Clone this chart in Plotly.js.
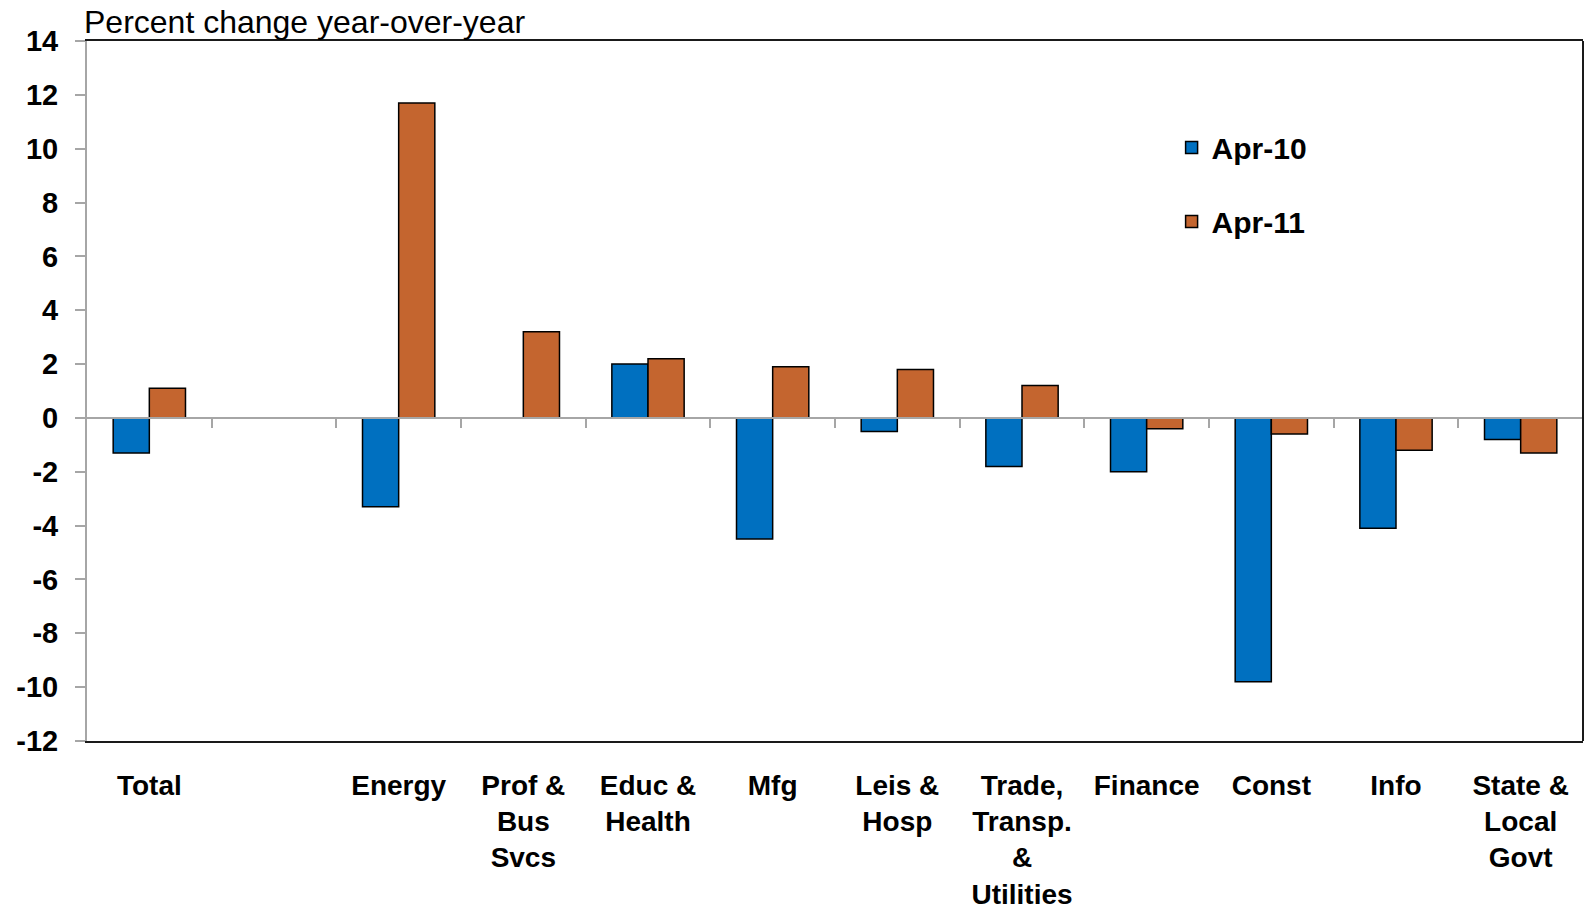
<!DOCTYPE html>
<html>
<head>
<meta charset="utf-8">
<script src="https://cdn.plot.ly/plotly-3.0.1.min.js"></script>
<style>html,body{margin:0;padding:0;background:#fff;}#chart{width:1585px;height:904px;}</style>
</head>
<body>
<div id="chart"></div>
<script>
const categories = ['Total', ' ', 'Energy', 'Prof & Bus Svcs', 'Educ & Health', 'Mfg', 'Leis & Hosp',
  'Trade, Transp. & Utilities', 'Finance', 'Const', 'Info', 'State & Local Govt'];
const tickLabels = ['Total', ' ', 'Energy', 'Prof &<br>Bus<br>Svcs', 'Educ &<br>Health', 'Mfg', 'Leis &<br>Hosp',
  'Trade,<br>Transp.<br>&<br>Utilities', 'Finance', 'Const', 'Info', 'State &<br>Local<br>Govt'];
const apr10 = [-1.3, null, -3.3, null, 2.0, -4.5, -0.5, -1.8, -2.0, -9.8, -4.1, -0.8];
const apr11 = [1.1, null, 11.7, 3.2, 2.2, 1.9, 1.8, 1.2, -0.4, -0.6, -1.2, -1.3];
const seriesNames = ['Apr-10', 'Apr-11'];
const yTitle = 'Percent change year-over-year';
const yTickVals = [14, 12, 10, 8, 6, 4, 2, 0, -2, -4, -6, -8, -10, -12];
const yTickText = yTickVals.map(v => String(v));

const FONT = '"Liberation Sans", Arial, sans-serif';
const yMin = -12, yMax = 14;
const boundaryTicks = categories.slice(1).map((_, i) => i + 0.5);

const traces = [
  {type: 'bar', name: seriesNames[0], x: categories, y: apr10, legendgroup: 'a',
   marker: {color: '#0070C0', line: {color: '#000', width: 1.5}}},
  {type: 'bar', name: seriesNames[1], x: categories, y: apr11, legendgroup: 'b',
   marker: {color: '#C4652F', line: {color: '#000', width: 1.5}}},
  {type: 'scatter', xaxis: 'x2', yaxis: 'y', x: [], y: [], showlegend: false, hoverinfo: 'skip'}
];

const layout = {
  width: 1585, height: 904,
  margin: {l: 87, r: 2, t: 41, b: 163},
  paper_bgcolor: '#fff', plot_bgcolor: '#fff',
  font: {family: FONT, color: '#000'},
  barmode: 'group', bargap: 0.42, bargroupgap: 0,
  showlegend: true,
  legend: {x: 0.725, xanchor: 'left', y: 0.885, yanchor: 'top', traceorder: 'grouped',
    tracegroupgap: 32, font: {size: 30, family: FONT, color: '#000', weight: 'bold'},
    bgcolor: 'rgba(0,0,0,0)'},
  xaxis: {type: 'category', tickvals: categories, ticktext: tickLabels,
    tickfont: {size: 28, family: FONT, color: '#000', weight: 'bold'},
    ticks: 'outside', ticklen: 18, tickcolor: 'rgba(0,0,0,0)',
    showline: true, linecolor: '#1a1a1a', linewidth: 2, mirror: true,
    showgrid: false, zeroline: false, range: [-0.5, categories.length - 0.5], fixedrange: true},
  xaxis2: {overlaying: 'x', anchor: 'free', position: (0 - yMin) / (yMax - yMin), side: 'bottom',
    range: [-0.5, categories.length - 0.5], tickvals: boundaryTicks,
    showticklabels: false, ticks: 'outside', ticklen: 9, tickwidth: 2, tickcolor: '#A6A6A6',
    showline: true, linecolor: '#A6A6A6', linewidth: 2.5, showgrid: false, zeroline: false, fixedrange: true},
  yaxis: {range: [yMin, yMax], tickvals: yTickVals, ticktext: yTickText,
    tickfont: {size: 29, family: FONT, color: '#000', weight: 'bold'},
    ticks: 'outside', ticklen: 10, tickwidth: 2, tickcolor: '#A6A6A6',
    ticklabelstandoff: 11,
    showline: true, linecolor: '#A6A6A6', linewidth: 2, showgrid: false, zeroline: false, fixedrange: true},
  shapes: [
    {type: 'line', xref: 'paper', yref: 'paper', x0: 1, x1: 1, y0: 0, y1: 1,
     line: {color: '#1a1a1a', width: 2}}
  ],
  annotations: [
    {text: yTitle, xref: 'paper', yref: 'paper', x: 0, y: 1, xanchor: 'left', yanchor: 'bottom',
     xshift: -5, yshift: -1, showarrow: false, font: {size: 32, family: FONT, color: '#000'}}
  ]
};

Plotly.newPlot('chart', traces, layout, {displayModeBar: false, staticPlot: true});
</script>
</body>
</html>
